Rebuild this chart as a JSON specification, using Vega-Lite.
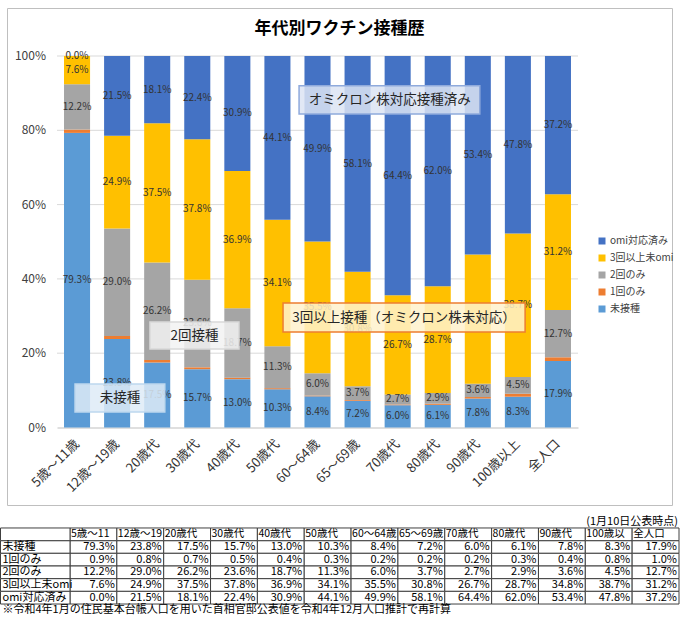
{
  "$schema": "https://vega.github.io/schema/vega-lite/v6.json",
  "padding": {"left": 0, "top": 7, "right": 0, "bottom": 0},
  "bounds": "flush",
  "spacing": 7,
  "background": "white",
  "config": {
    "font": "Noto Sans CJK JP",
    "view": {"stroke": "#BFBFBF"},
    "text": {"font": "Noto Sans CJK JP"}
  },
  "datasets": {
    "vac": [
      {"age": "5歳～11歳", "type": "未接種", "ord": 1, "pct": 0.793},
      {"age": "12歳～19歳", "type": "未接種", "ord": 1, "pct": 0.238},
      {"age": "20歳代", "type": "未接種", "ord": 1, "pct": 0.175},
      {"age": "30歳代", "type": "未接種", "ord": 1, "pct": 0.157},
      {"age": "40歳代", "type": "未接種", "ord": 1, "pct": 0.130},
      {"age": "50歳代", "type": "未接種", "ord": 1, "pct": 0.103},
      {"age": "60～64歳", "type": "未接種", "ord": 1, "pct": 0.084},
      {"age": "65～69歳", "type": "未接種", "ord": 1, "pct": 0.072},
      {"age": "70歳代", "type": "未接種", "ord": 1, "pct": 0.060},
      {"age": "80歳代", "type": "未接種", "ord": 1, "pct": 0.061},
      {"age": "90歳代", "type": "未接種", "ord": 1, "pct": 0.078},
      {"age": "100歳以上", "type": "未接種", "ord": 1, "pct": 0.083},
      {"age": "全人口", "type": "未接種", "ord": 1, "pct": 0.179},
      {"age": "5歳～11歳", "type": "1回のみ", "ord": 2, "pct": 0.009},
      {"age": "12歳～19歳", "type": "1回のみ", "ord": 2, "pct": 0.008},
      {"age": "20歳代", "type": "1回のみ", "ord": 2, "pct": 0.007},
      {"age": "30歳代", "type": "1回のみ", "ord": 2, "pct": 0.005},
      {"age": "40歳代", "type": "1回のみ", "ord": 2, "pct": 0.004},
      {"age": "50歳代", "type": "1回のみ", "ord": 2, "pct": 0.003},
      {"age": "60～64歳", "type": "1回のみ", "ord": 2, "pct": 0.002},
      {"age": "65～69歳", "type": "1回のみ", "ord": 2, "pct": 0.002},
      {"age": "70歳代", "type": "1回のみ", "ord": 2, "pct": 0.002},
      {"age": "80歳代", "type": "1回のみ", "ord": 2, "pct": 0.003},
      {"age": "90歳代", "type": "1回のみ", "ord": 2, "pct": 0.004},
      {"age": "100歳以上", "type": "1回のみ", "ord": 2, "pct": 0.008},
      {"age": "全人口", "type": "1回のみ", "ord": 2, "pct": 0.010},
      {"age": "5歳～11歳", "type": "2回のみ", "ord": 3, "pct": 0.122},
      {"age": "12歳～19歳", "type": "2回のみ", "ord": 3, "pct": 0.290},
      {"age": "20歳代", "type": "2回のみ", "ord": 3, "pct": 0.262},
      {"age": "30歳代", "type": "2回のみ", "ord": 3, "pct": 0.236},
      {"age": "40歳代", "type": "2回のみ", "ord": 3, "pct": 0.187},
      {"age": "50歳代", "type": "2回のみ", "ord": 3, "pct": 0.113},
      {"age": "60～64歳", "type": "2回のみ", "ord": 3, "pct": 0.060},
      {"age": "65～69歳", "type": "2回のみ", "ord": 3, "pct": 0.037},
      {"age": "70歳代", "type": "2回のみ", "ord": 3, "pct": 0.027},
      {"age": "80歳代", "type": "2回のみ", "ord": 3, "pct": 0.029},
      {"age": "90歳代", "type": "2回のみ", "ord": 3, "pct": 0.036},
      {"age": "100歳以上", "type": "2回のみ", "ord": 3, "pct": 0.045},
      {"age": "全人口", "type": "2回のみ", "ord": 3, "pct": 0.127},
      {"age": "5歳～11歳", "type": "3回以上未omi", "ord": 4, "pct": 0.076},
      {"age": "12歳～19歳", "type": "3回以上未omi", "ord": 4, "pct": 0.249},
      {"age": "20歳代", "type": "3回以上未omi", "ord": 4, "pct": 0.375},
      {"age": "30歳代", "type": "3回以上未omi", "ord": 4, "pct": 0.378},
      {"age": "40歳代", "type": "3回以上未omi", "ord": 4, "pct": 0.369},
      {"age": "50歳代", "type": "3回以上未omi", "ord": 4, "pct": 0.341},
      {"age": "60～64歳", "type": "3回以上未omi", "ord": 4, "pct": 0.355},
      {"age": "65～69歳", "type": "3回以上未omi", "ord": 4, "pct": 0.308},
      {"age": "70歳代", "type": "3回以上未omi", "ord": 4, "pct": 0.267},
      {"age": "80歳代", "type": "3回以上未omi", "ord": 4, "pct": 0.287},
      {"age": "90歳代", "type": "3回以上未omi", "ord": 4, "pct": 0.348},
      {"age": "100歳以上", "type": "3回以上未omi", "ord": 4, "pct": 0.387},
      {"age": "全人口", "type": "3回以上未omi", "ord": 4, "pct": 0.312},
      {"age": "5歳～11歳", "type": "omi対応済み", "ord": 5, "pct": 0.000},
      {"age": "12歳～19歳", "type": "omi対応済み", "ord": 5, "pct": 0.215},
      {"age": "20歳代", "type": "omi対応済み", "ord": 5, "pct": 0.181},
      {"age": "30歳代", "type": "omi対応済み", "ord": 5, "pct": 0.224},
      {"age": "40歳代", "type": "omi対応済み", "ord": 5, "pct": 0.309},
      {"age": "50歳代", "type": "omi対応済み", "ord": 5, "pct": 0.441},
      {"age": "60～64歳", "type": "omi対応済み", "ord": 5, "pct": 0.499},
      {"age": "65～69歳", "type": "omi対応済み", "ord": 5, "pct": 0.581},
      {"age": "70歳代", "type": "omi対応済み", "ord": 5, "pct": 0.644},
      {"age": "80歳代", "type": "omi対応済み", "ord": 5, "pct": 0.620},
      {"age": "90歳代", "type": "omi対応済み", "ord": 5, "pct": 0.534},
      {"age": "100歳以上", "type": "omi対応済み", "ord": 5, "pct": 0.478},
      {"age": "全人口", "type": "omi対応済み", "ord": 5, "pct": 0.372}
    ],
    "ticks": [{"t": 0}, {"t": 0.2}, {"t": 0.4}, {"t": 0.6}, {"t": 0.8}, {"t": 1}]
  },
  "vconcat": [
    {
      "width": 665,
      "height": 497,
      "view": {"stroke": "#BFBFBF", "fill": "white"},
      "title": {"text": "年代別ワクチン接種歴", "fontSize": 17, "fontWeight": "bold", "anchor": "middle", "offset": 0, "dy": 30, "baseline": "top", "color": "#000000"},
      "layer": [
        {
          "data": {"name": "ticks"},
          "transform": [{"filter": "datum.t > 0"}],
          "mark": {"type": "rule", "color": "#D9D9D9", "strokeWidth": 1},
          "encoding": {
            "x": {"datum": 0, "type": "quantitative", "scale": {"domain": [0, 13], "range": [50, 571]}, "axis": null},
            "x2": {"datum": 13},
            "y": {"field": "t", "type": "quantitative", "scale": {"domain": [0, 1], "range": [419.5, 48], "nice": false, "zero": true}, "axis": null}
          }
        },
        {
          "data": {"name": "ticks"},
          "mark": {"type": "text", "align": "right", "baseline": "middle", "dx": -11, "fontSize": 12, "color": "#404040"},
          "encoding": {
            "x": {"datum": 0, "type": "quantitative", "scale": {"domain": [0, 13], "range": [50, 571]}, "axis": null},
            "y": {"field": "t", "type": "quantitative", "scale": {"domain": [0, 1], "range": [419.5, 48], "nice": false, "zero": true}, "axis": null},
            "text": {"field": "t", "type": "quantitative", "format": ".0%"}
          }
        },
        {
          "data": {"name": "vac"},
          "layer": [
            {
              "mark": {"type": "bar"},
              "encoding": {
                "x": {
                  "field": "age", "type": "nominal",
                  "scale": {"domain": ["5歳～11歳","12歳～19歳","20歳代","30歳代","40歳代","50歳代","60～64歳","65～69歳","70歳代","80歳代","90歳代","100歳以上","全人口"], "range": [50, 571], "paddingInner": 0.35, "paddingOuter": 0.175},
                  "axis": {"orient": "bottom", "offset": -77.5, "labelAngle": -45, "labelAlign": "right", "labelBaseline": "middle", "labelFontSize": 13, "labelColor": "#333333", "domainColor": "#BFBFBF", "ticks": false, "tickSize": 0, "labelPadding": 14, "title": null, "grid": false, "labelLimit": 200}
                },
                "y": {
                  "field": "pct", "type": "quantitative", "stack": "normalize",
                  "scale": {"domain": [0, 1], "range": [419.5, 48], "nice": false, "zero": true},
                  "axis": null
                },
                "color": {
                  "field": "type", "type": "nominal",
                  "scale": {"domain": ["omi対応済み","3回以上未omi","2回のみ","1回のみ","未接種"], "range": ["#4472C4","#FFC000","#A5A5A5","#ED7D31","#5B9BD5"]},
                  "legend": {"orient": "none", "legendX": 590, "legendY": 228, "title": null, "symbolType": "square", "symbolSize": 49, "labelFontSize": 10, "labelColor": "#404040", "rowPadding": 7, "labelOffset": 3, "padding": 0}
                },
                "order": {"field": "ord", "type": "quantitative"}
              }
            },
            {
              "mark": {"type": "text", "fontSize": 10, "color": "#333333", "baseline": "middle"},
              "encoding": {
                "x": {"field": "age", "type": "nominal", "scale": {"domain": ["5歳～11歳","12歳～19歳","20歳代","30歳代","40歳代","50歳代","60～64歳","65～69歳","70歳代","80歳代","90歳代","100歳以上","全人口"], "range": [50, 571], "paddingInner": 0.35, "paddingOuter": 0.175}},
                "y": {"field": "pct", "type": "quantitative", "stack": "normalize", "bandPosition": 0.5, "scale": {"domain": [0, 1], "range": [419.5, 48], "nice": false, "zero": true}, "axis": null},
                "detail": {"field": "type", "type": "nominal"},
                "order": {"field": "ord", "type": "quantitative"},
                "text": {"field": "pct", "type": "quantitative", "format": ".1%", "condition": {"test": "datum.type === '1回のみ'", "value": ""}}
              }
            }
          ]
        },
        {
          "data": {"name": "vac"},
          "transform": [{"filter": "datum.age === '全人口' && datum.type === '未接種'"}],
          "encoding": {
            "x": {"datum": 0, "type": "quantitative", "scale": {"domain": [0, 13], "range": [50, 571]}, "axis": null}
          },
          "layer": [
            {
              "mark": {"type": "rect", "fill": "#DCE4F3", "fillOpacity": 0.85, "stroke": "#8FAADC", "strokeWidth": 1.5},
              "encoding": {
                "x": {"datum": 6.04, "type": "quantitative", "scale": {"domain": [0, 13], "range": [50, 571]}, "axis": null},
                "x2": {"datum": 10.55},
                "y": {"datum": 0.92, "type": "quantitative", "axis": null},
                "y2": {"datum": 0.844}
              }
            },
            {
              "mark": {"type": "text", "fontSize": 13.5, "color": "#262626", "baseline": "middle", "align": "center"},
              "encoding": {
                "x": {"datum": 8.3, "type": "quantitative", "axis": null},
                "y": {"datum": 0.882, "type": "quantitative", "axis": null},
                "text": {"value": "オミクロン株対応接種済み"}
              }
            },
            {
              "mark": {"type": "rect", "fill": "#FFF2CC", "fillOpacity": 0.85, "stroke": "#ED7D31", "strokeWidth": 1.5},
              "encoding": {
                "x": {"datum": 5.64, "type": "quantitative", "axis": null},
                "x2": {"datum": 11.68},
                "y": {"datum": 0.335, "type": "quantitative", "axis": null},
                "y2": {"datum": 0.257}
              }
            },
            {
              "mark": {"type": "text", "fontSize": 13.5, "color": "#262626", "baseline": "middle", "align": "center"},
              "encoding": {
                "x": {"datum": 8.66, "type": "quantitative", "axis": null},
                "y": {"datum": 0.296, "type": "quantitative", "axis": null},
                "text": {"value": "3回以上接種（オミクロン株未対応）"}
              }
            },
            {
              "mark": {"type": "rect", "fill": "#F2F2F2", "fillOpacity": 0.85, "stroke": "#D9D9D9", "strokeWidth": 1.5},
              "encoding": {
                "x": {"datum": 2.32, "type": "quantitative", "axis": null},
                "x2": {"datum": 4.54},
                "y": {"datum": 0.284, "type": "quantitative", "axis": null},
                "y2": {"datum": 0.211}
              }
            },
            {
              "mark": {"type": "text", "fontSize": 13.5, "color": "#262626", "baseline": "middle", "align": "center"},
              "encoding": {
                "x": {"datum": 3.43, "type": "quantitative", "axis": null},
                "y": {"datum": 0.2475, "type": "quantitative", "axis": null},
                "text": {"value": "2回接種"}
              }
            },
            {
              "mark": {"type": "rect", "fill": "#DEEBF7", "fillOpacity": 0.85, "stroke": "#BDD7EE", "strokeWidth": 1.5},
              "encoding": {
                "x": {"datum": 0.45, "type": "quantitative", "axis": null},
                "x2": {"datum": 2.69},
                "y": {"datum": 0.117, "type": "quantitative", "axis": null},
                "y2": {"datum": 0.042}
              }
            },
            {
              "mark": {"type": "text", "fontSize": 13.5, "color": "#262626", "baseline": "middle", "align": "center"},
              "encoding": {
                "x": {"datum": 1.57, "type": "quantitative", "axis": null},
                "y": {"datum": 0.0795, "type": "quantitative", "axis": null},
                "text": {"value": "未接種"}
              }
            }
          ]
        }
      ],
      "resolve": {"scale": {"x": "independent"}}
    },
    {
      "width": 665,
      "height": 107,
      "view": {"stroke": null},
      "data": {"name": "vac"},
      "layer": [
        {
          "encoding": {
            "x": {"field": "age", "type": "nominal", "scale": {"domain": ["5歳～11歳","12歳～19歳","20歳代","30歳代","40歳代","50歳代","60～64歳","65～69歳","70歳代","80歳代","90歳代","100歳以上","全人口"], "range": [63, 672], "paddingInner": 0, "paddingOuter": 0}, "axis": null}
          },
          "layer": [
            {
              "mark": {"type": "rect", "fill": "white", "stroke": "#404040", "strokeWidth": 1},
              "encoding": {
                "y": {"field": "type", "type": "nominal", "scale": {"domain": ["top","hdr","未接種","1回のみ","2回のみ","3回以上未omi","omi対応済み","note"], "range": [3.3, 104.7], "paddingInner": 0, "paddingOuter": 0}, "axis": null}
              }
            },
            {
              "transform": [{"filter": "datum.type === '未接種'"}],
              "mark": {"type": "rect", "fill": "white", "stroke": "#404040", "strokeWidth": 1},
              "encoding": {
                "y": {"datum": "hdr", "type": "nominal", "axis": null}
              }
            },
            {
              "mark": {"type": "text", "fontSize": 11, "color": "#000000", "align": "right", "baseline": "middle", "dx": -2},
              "encoding": {
                "x": {"field": "age", "type": "nominal", "bandPosition": 1},
                "y": {"field": "type", "type": "nominal", "axis": null},
                "text": {"field": "pct", "type": "quantitative", "format": ".1%"}
              }
            },
            {
              "transform": [{"filter": "datum.type === '未接種'"}],
              "mark": {"type": "text", "fontSize": 10.5, "color": "#000000", "align": "left", "baseline": "middle", "dx": 1, "limit": 45, "ellipsis": "\u200b"},
              "encoding": {
                "x": {"field": "age", "type": "nominal", "bandPosition": 0},
                "y": {"datum": "hdr", "type": "nominal", "axis": null},
                "text": {"field": "age", "type": "nominal"}
              }
            },
            {
              "transform": [{"filter": "datum.type === '未接種' && datum.age === '全人口'"}],
              "mark": {"type": "text", "fontSize": 11, "color": "#000000", "align": "right", "baseline": "middle", "dx": -1},
              "encoding": {
                "x": {"field": "age", "type": "nominal", "bandPosition": 1},
                "y": {"datum": "top", "type": "nominal", "axis": null},
                "text": {"value": "(1月10日公表時点)"}
              }
            }
          ]
        },
        {
          "transform": [{"filter": "datum.age === '全人口'"}],
          "encoding": {
            "x": {"datum": 0, "type": "quantitative", "scale": {"domain": [0, 1], "range": [-6.5, 63]}, "axis": null}
          },
          "layer": [
            {
              "mark": {"type": "rect", "fill": "white", "stroke": "#404040", "strokeWidth": 1},
              "encoding": {
                "x": {"datum": 0, "type": "quantitative", "axis": null},
                "x2": {"datum": 1},
                "y": {"field": "type", "type": "nominal", "axis": null}
              }
            },
            {
              "transform": [{"filter": "datum.type === '未接種'"}],
              "mark": {"type": "rect", "fill": "white", "stroke": "#404040", "strokeWidth": 1},
              "encoding": {
                "x": {"datum": 0, "type": "quantitative", "axis": null},
                "x2": {"datum": 1},
                "y": {"datum": "hdr", "type": "nominal", "axis": null}
              }
            },
            {
              "mark": {"type": "text", "fontSize": 11, "color": "#000000", "align": "left", "baseline": "middle", "dx": 2},
              "encoding": {
                "x": {"datum": 0, "type": "quantitative", "axis": null},
                "y": {"field": "type", "type": "nominal", "axis": null},
                "text": {"field": "type", "type": "nominal"}
              }
            },
            {
              "transform": [{"filter": "datum.type === '未接種'"}],
              "mark": {"type": "text", "fontSize": 11, "color": "#000000", "align": "left", "baseline": "middle", "dx": 2},
              "encoding": {
                "x": {"datum": 0, "type": "quantitative", "axis": null},
                "y": {"datum": "note", "type": "nominal", "axis": null},
                "text": {"value": "※令和4年1月の住民基本台帳人口を用いた首相官邸公表値を令和4年12月人口推計で再計算"}
              }
            }
          ]
        }
      ],
      "resolve": {"scale": {"x": "independent"}}
    }
  ]
}
